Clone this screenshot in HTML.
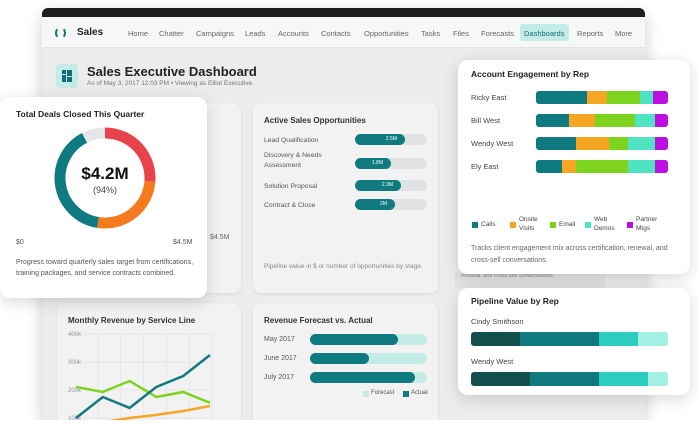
<!DOCTYPE html>
<html><head><meta charset="utf-8"><style>
*{box-sizing:border-box;margin:0;padding:0}
body{width:698px;height:444px;background:#fff;font-family:"Liberation Sans",sans-serif;position:relative;overflow:hidden;color:#333}
.a{position:absolute}
.t{position:absolute;white-space:nowrap}
.card{position:absolute;background:#f2f2f2;border-radius:8px;box-shadow:0 1px 3px rgba(0,0,0,.08)}
.wcard{position:absolute;background:#fff;border-radius:10px;box-shadow:0 4px 16px rgba(0,0,0,.15)}
.nav{font-size:7.5px;color:#666}
</style></head><body>
<div class="a" style="left:42px;top:8px;width:603px;height:412px;background:#ececec;border-radius:6px;overflow:hidden;box-shadow:0 6px 16px rgba(0,0,0,.2)">
  <div class="a" style="left:0;top:0;width:603px;height:9px;background:#1e1e1e"></div>
  <div class="a" style="left:0;top:9px;width:603px;height:31px;background:#f6f7f7;border-bottom:1px solid #e3e3e3"></div>
</div>
<div class="a" style="left:55px;top:27px;width:11px;height:12px;border:2.5px solid #0f7a80;border-radius:50%;border-top-color:transparent;border-bottom-color:transparent"></div>
<div class="t" style="left:77px;top:27px;font-size:10px;font-weight:bold;color:#222">Sales</div>
<div class="t nav" style="left:128px;top:29px">Home</div>
<div class="t nav" style="left:159px;top:29px">Chatter</div>
<div class="t nav" style="left:196px;top:29px">Campaigns</div>
<div class="t nav" style="left:245px;top:29px">Leads</div>
<div class="t nav" style="left:278px;top:29px">Accounts</div>
<div class="t nav" style="left:321px;top:29px">Contacts</div>
<div class="t nav" style="left:364px;top:29px">Opportunities</div>
<div class="t nav" style="left:421px;top:29px">Tasks</div>
<div class="t nav" style="left:453px;top:29px">Files</div>
<div class="t nav" style="left:481px;top:29px">Forecasts</div>
<div class="a" style="left:520px;top:24px;width:49px;height:17px;background:#c4ece6;border-radius:3px"></div>
<div class="t nav" style="left:524px;top:29px;color:#0f6f73">Dashboards</div>
<div class="t nav" style="left:577px;top:29px">Reports</div>
<div class="t nav" style="left:615px;top:29px">More</div>

<div class="a" style="left:56px;top:64px;width:22px;height:24px;background:#c4ece6;border-radius:3px">
  <div class="a" style="left:6px;top:6px;width:4px;height:4px;background:#0f6f73"></div><div class="a" style="left:11px;top:6px;width:5px;height:6px;background:#0f6f73"></div>
  <div class="a" style="left:6px;top:11px;width:4px;height:7px;background:#0f6f73"></div><div class="a" style="left:11px;top:13px;width:5px;height:5px;background:#0f6f73"></div>
</div>
<div class="t" style="left:87px;top:64px;font-size:13px;font-weight:bold;color:#222">Sales Executive Dashboard</div>
<div class="t" style="left:87px;top:80px;font-size:6.5px;color:#777">As of May 3, 2017 12:03 PM • Viewing as Elliot Executive</div>

<div class="card" style="left:180px;top:103px;width:61px;height:190px"></div>
<div class="t" style="left:210px;top:234px;font-size:7px;color:#666">$4.5M</div>

<div class="card" style="left:253px;top:103px;width:185px;height:190px"></div>
<div class="t" style="left:264px;top:116px;font-size:8px;font-weight:bold;color:#333">Active Sales Opportunities</div>
<div class="t" style="left:264px;top:262px;font-size:6.5px;color:#888;line-height:10px;white-space:normal;width:165px">Pipeline value in $ or number of opportunities by stage.</div>
<div id="opp"></div>

<div class="card" style="left:57px;top:303px;width:184px;height:130px"></div>
<div class="t" style="left:68px;top:316px;font-size:8px;font-weight:bold;color:#333">Monthly Revenue by Service Line</div>
<svg class="a" id="lineSvg" style="left:0;top:0" width="698" height="420"></svg>

<div class="card" style="left:253px;top:303px;width:185px;height:130px"></div>
<div class="t" style="left:264px;top:316px;font-size:8px;font-weight:bold;color:#333">Revenue Forecast vs. Actual</div>
<div id="fc"></div>
<div class="a" style="left:363px;top:391px;width:6px;height:6px;background:#c4ece6"></div>
<div class="t" style="left:371px;top:390px;font-size:6px;color:#555">Forecast</div>
<div class="a" style="left:403px;top:391px;width:6px;height:6px;background:#0f7a80"></div>
<div class="t" style="left:411px;top:390px;font-size:6px;color:#555">Actual</div>

<div class="a" style="left:0;top:420px;width:698px;height:24px;background:#fff"></div>

<div class="wcard" style="left:0;top:97px;width:207px;height:201px"></div>
<div class="t" style="left:16px;top:109px;font-size:8.5px;font-weight:bold;color:#222">Total Deals Closed This Quarter</div>
<svg class="a" id="donut" style="left:0;top:97px" width="207" height="140"></svg>
<div class="t" style="left:55px;top:164px;width:100px;text-align:center;font-size:17px;font-weight:bold;color:#111">$4.2M</div>
<div class="t" style="left:55px;top:185px;width:100px;text-align:center;font-size:9px;color:#444">(94%)</div>
<div class="t" style="left:16px;top:239px;font-size:7px;color:#555">$0</div>
<div class="t" style="left:173px;top:239px;font-size:7px;color:#555">$4.5M</div>
<div class="t" style="left:16px;top:257px;width:180px;white-space:normal;font-size:7px;line-height:11px;color:#555">Progress toward quarterly sales target from certifications, training packages, and service contracts combined.</div>

<div class="a" style="left:455px;top:272px;width:150px;height:16px;background:#e4e4e4"></div>
<div class="t" style="left:461px;top:273px;font-size:5.5px;color:#888">renewal, and cross-sell conversations.</div>
<div class="wcard" style="left:458px;top:60px;width:232px;height:214px"></div>
<div class="t" style="left:471px;top:69px;font-size:8.5px;font-weight:bold;color:#222">Account Engagement by Rep</div>
<div id="eng"></div>
<div id="engLeg"></div>
<div class="t" style="left:471px;top:243px;width:215px;white-space:normal;font-size:7px;line-height:12px;color:#666">Tracks client engagement mix across certification, renewal, and cross-sell conversations.</div>

<div class="wcard" style="left:458px;top:288px;width:232px;height:107px"></div>
<div class="t" style="left:471px;top:296px;font-size:8.5px;font-weight:bold;color:#222">Pipeline Value by Rep</div>
<div id="pipe"></div>

<script>
// ---- data ----
const oppStages=["Lead Qualification","Discovery & Needs Assessment","Solution Proposal","Contract & Close"];
const oppValues=[2.5,1.8,2.3,2.0];
const oppLabels=["2.5M","1.8M","2.3M","2M"];
const oppMax=3.6;

const donutValues=[1.05,1.05,1.6,0.3];
const donutColors=["#e8424a","#f47a20","#0f7a80","#e4e6e8"];

const months=["Jan","Feb","Mar","Apr","May","Jun"];
const yTicks=[100,200,300,400];
const yTickLabels=["100k","200k","300k","400k"];
const seriesTeal=[100,175,136,211,250,325];
const seriesGreen=[211,193,232,175,193,154];
const seriesOrange=[70,85,100,111,125,143];

const fcMonths=["May 2017","June 2017","July 2017"];
const fcForecast=[4.0,4.0,4.0];
const fcActual=[3.0,2.0,3.6];

const reps=["Ricky East","Bill West","Wendy West","Ely East"];
const engCategories=["Calls","Onsite Visits","Email","Web Demos","Partner Mtgs"];
const engCalls=[39,25,30,20];
const engOnsite=[15,20,25,10];
const engEmail=[25,30,15,40];
const engWeb=[10,15,20,20];
const engPartner=[11,10,10,10];
const engColors=["#0f7a80","#f5a623","#7ed321","#50e3c2","#bd10e0"];

const pipeReps=["Cindy Smithson","Wendy West"];
const pipeA=[25,30];
const pipeB=[40,35];
const pipeC=[20,25];
const pipeD=[15,10];
const pipeColors=["#134f4c","#0f7a80","#2ccfbf","#a3f0e4"];

const NS="http://www.w3.org/2000/svg";
function div(parent,css,text){const d=document.createElement('div');d.style.cssText="position:absolute;"+css;if(text!==undefined)d.textContent=text;parent.appendChild(d);return d;}

const opp=document.getElementById('opp');
const oppY=[134,158,180,199], oppX=355, oppW=72;
const oppScale=v=>v/oppMax*oppW;
oppStages.forEach((s,i)=>{
  const l=div(opp,`left:264px;top:${oppY[i]+(i==1?-7:2)}px;width:85px;font-size:6.8px;line-height:10px;color:#555`,s);
  
  
  const t=div(opp,`left:${oppX}px;top:${oppY[i]}px;width:${oppW}px;height:11px;background:#dfe1e3;border-radius:6px`);
  
  
  const b=div(opp,`left:${oppX}px;top:${oppY[i]}px;width:${oppScale(oppValues[i])}px;height:11px;background:#0f7a80;border-radius:6px;color:#fff;font-size:5px;line-height:11px;text-align:right;padding-right:8px`,oppLabels[i]);
  
  
});

const dsvg=document.getElementById('donut');
const cx=105,cy=81,r=45,sw=11;
const total=donutValues.reduce((a,b)=>a+b,0);
let ang=0;
donutValues.forEach((v,i)=>{
  const a0=ang, a1=ang+v/total*2*Math.PI; ang=a1;
  const p=(a)=>[cx+r*Math.sin(a),cy-r*Math.cos(a)];
  const [x0,y0]=p(a0),[x1,y1]=p(a1);
  const path=document.createElementNS(NS,'path');
  path.setAttribute('d',`M${x0} ${y0} A${r} ${r} 0 ${a1-a0>Math.PI?1:0} 1 ${x1} ${y1}`);
  path.setAttribute('fill','none');path.setAttribute('stroke',donutColors[i]);path.setAttribute('stroke-width',sw);
  
  
  dsvg.appendChild(path);
});

const ls=document.getElementById('lineSvg');
const x0=76,x1=210, yAt=v=>362-(v-300)*0.28;
const xAt=i=>x0+i*(x1-x0)/(months.length-1);
for(let i=0;i<6;i++){const gx=98+i*22.8;const ln=document.createElementNS(NS,'line');ln.setAttribute('x1',gx);ln.setAttribute('x2',gx);ln.setAttribute('y1',334);ln.setAttribute('y2',420);ln.setAttribute('stroke','#e2e2e2');ln.setAttribute('stroke-width','0.7');


ls.appendChild(ln);}
yTicks.forEach((v,i)=>{
  const ln=document.createElementNS(NS,'line');ln.setAttribute('x1',68);ln.setAttribute('x2',212);ln.setAttribute('y1',yAt(v));ln.setAttribute('y2',yAt(v));ln.setAttribute('stroke','#e2e2e2');ln.setAttribute('stroke-width','0.7');
  
  
  ls.appendChild(ln);
  const t=document.createElementNS(NS,'text');t.setAttribute('x',68);t.setAttribute('y',yAt(v)+2);t.setAttribute('font-size','6');t.setAttribute('fill','#999');t.textContent=yTickLabels[i];
  
  
  ls.appendChild(t);
});
[[seriesOrange,'#f5a623','series-orange'],[seriesGreen,'#7ed321','series-green'],[seriesTeal,'#0f7a80','series-teal']].forEach(([s,c,n])=>{
  const pl=document.createElementNS(NS,'polyline');
  pl.setAttribute('points',s.map((v,i)=>xAt(i)+','+yAt(v)).join(' '));
  pl.setAttribute('fill','none');pl.setAttribute('stroke',c);pl.setAttribute('stroke-width','2.5');
  
  
  ls.appendChild(pl);
});

const fc=document.getElementById('fc');
const fcY=[334,353,372], fcX=310, fcW=117, fcMax=4.0;
fcMonths.forEach((m,i)=>{
  const l=div(fc,`left:264px;top:${fcY[i]+2}px;font-size:7px;color:#555`,m);
  
  
  const f=div(fc,`left:${fcX}px;top:${fcY[i]}px;width:${fcForecast[i]/fcMax*fcW}px;height:11px;background:#c4ece6;border-radius:6px`);
  
  
  const a=div(fc,`left:${fcX}px;top:${fcY[i]}px;width:${fcActual[i]/fcMax*fcW}px;height:11px;background:#0f7a80;border-radius:6px`);
  
  
});

const eng=document.getElementById('eng');
const engSeries=[engCalls,engOnsite,engEmail,engWeb,engPartner];
const engY=[91,114,137,160], engX=536, engW=132;
reps.forEach((rname,i)=>{
  const l=div(eng,`left:471px;top:${engY[i]+2}px;font-size:7.5px;color:#444`,rname);
  
  
  const tot=engSeries.reduce((a,s)=>a+s[i],0);
  const wrap=div(eng,`left:${engX}px;top:${engY[i]}px;width:${engW}px;height:13px;border-radius:3px;overflow:hidden;display:flex`);
  
  
  engSeries.forEach((s,k)=>{
    const seg=document.createElement('div');
    seg.style.cssText=`width:${s[i]/tot*engW}px;height:13px;background:${engColors[k]}`;
    
    
    wrap.appendChild(seg);
  });
});
const engLeg=document.getElementById('engLeg');
const legX=[472,510,550,585,627];
engCategories.forEach((c,k)=>{
  const sw=div(engLeg,`left:${legX[k]}px;top:222px;width:6px;height:6px;background:${engColors[k]}`);
  
  
  const words=c.split(' ');
  const t=div(engLeg,`left:${legX[k]+9}px;top:${words.length>1?215:220}px;font-size:6.5px;line-height:9px;color:#444;white-space:normal;width:30px`,c);
  
  
});

const pipe=document.getElementById('pipe');
const pipeSeries=[pipeA,pipeB,pipeC,pipeD];
const pipeY=[332,372], pX=471, pW=197;
pipeReps.forEach((rname,i)=>{
  const l=div(pipe,`left:471px;top:${pipeY[i]-15}px;font-size:7.5px;color:#444`,rname);
  
  
  const tot=pipeSeries.reduce((a,s)=>a+s[i],0);
  const wrap=div(pipe,`left:${pX}px;top:${pipeY[i]}px;width:${pW}px;height:14px;border-radius:3px;overflow:hidden;display:flex`);
  
  
  pipeSeries.forEach((s,k)=>{
    const seg=document.createElement('div');
    seg.style.cssText=`width:${s[i]/tot*pW}px;height:14px;background:${pipeColors[k]}`;
    
    
    wrap.appendChild(seg);
  });
});
</script>
</body></html>
